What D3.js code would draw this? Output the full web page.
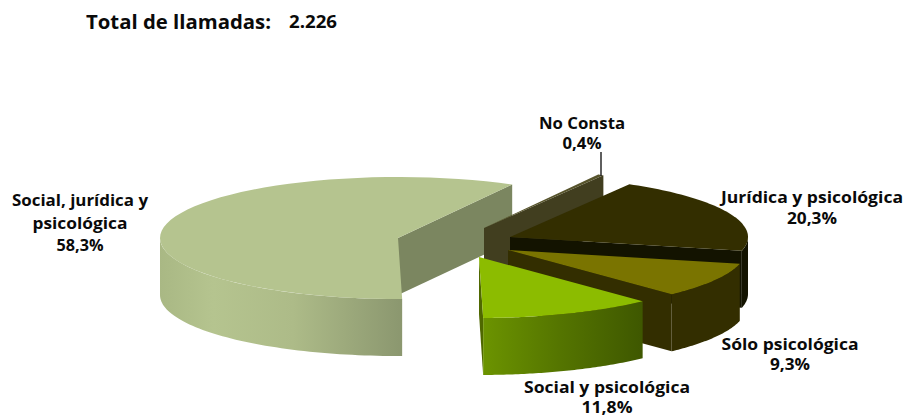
<!DOCTYPE html>
<html><head><meta charset="utf-8">
<script src="https://cdn.jsdelivr.net/npm/d3@7"></script>
<style>html,body{margin:0;padding:0;background:#fff}svg{display:block}
text{font-family:"Open Sans","Noto Sans",sans-serif;font-weight:700;fill:#0a0a0a}</style>
</head><body><svg id="c" width="908" height="417"></svg>
<script>
const categories=["Social, jurídica y psicológica","No Consta","Jurídica y psicológica","Sólo psicológica","Social y psicológica"];
const shares=[58.3,0.4,20.3,9.3,11.8];
const shareLabels=["58,3%","0,4%","20,3%","9,3%","11,8%"];
const totalLabel="Total de llamadas:";
const totalValue="2.226";

// layout
const rx=238, ry=61, depth=57, startDeg=179;
const apex=[[398,238],[484,228],[510,237],[508,250],[479,257]];
const topColor=["#b5c48f","#57542c","#332e00","#7a7400","#8cbc00"];
const faceColor=["#7b8660","#413e1f","#131300","#332e00","#4f6800"];
const wallColor=["url(#gBig)","#413e1f","#131300","#332e00","url(#gSoc)"];
const labelLines=[["Social, jurídica y","psicológica"],["No Consta"],["Jurídica y psicológica"],["Sólo psicológica"],["Social y psicológica"]];
const labelX=[80,582,812,790,607];
const labelY=[[206,229,251],[129,149],[203,224],[350,370],[393,413]];
const labelW=[[136,95,47],[86,39],[182,50],[137,40],[166,51]];

const svg=d3.select("#c");
const defs=svg.append("defs");
function grad(id,x1,x2,stops){
  const g=defs.append("linearGradient").attr("id",id).attr("gradientUnits","userSpaceOnUse")
    .attr("x1",x1).attr("x2",x2).attr("y1",0).attr("y2",0);
  stops.forEach(s=>g.append("stop").attr("offset",s[0]).attr("stop-color",s[1]));
}
grad("gBig",160,402,[[0,"#a9b884"],[0.22,"#b5c48f"],[0.55,"#adbb88"],[1,"#8b976f"]]);
grad("gSoc",482,641,[[0,"#6c9400"],[0.5,"#547400"],[1,"#3f5800"]]);

const arcs=d3.pie().sort(null).value(d=>d)
  .startAngle(startDeg*Math.PI/180).endAngle(startDeg*Math.PI/180+2*Math.PI)(shares);
const line=d3.line();
const on=(c,t,dy=0)=>[c[0]+rx*Math.sin(t),c[1]-ry*Math.cos(t)+dy];
const steps=(a,b)=>d3.range(0,61).map(i=>a+(b-a)*i/60);

arcs.forEach((a,i)=>{
  const c=apex[i], g=svg.append("g");
  const t0=a.startAngle,t1=a.endAngle;
  const e=on(c,t1);
  g.append("path").attr("fill",faceColor[i])
    .attr("d",line([c,e,[e[0],e[1]+depth],[c[0],c[1]+depth]])+"Z");
  const P=Math.PI;
  [[t0,t1],[t0-2*P,t1-2*P]].forEach(([u,v])=>{
    const w0=Math.max(u,P/2),w1=Math.min(v,3*P/2);
    if(w1>w0){
      const s=steps(w0,w1);
      g.append("path").attr("fill",wallColor[i])
        .attr("d",line(s.map(t=>on(c,t)).concat(s.slice().reverse().map(t=>on(c,t,depth))))+"Z");
    }
  });
  g.append("path").attr("fill",topColor[i])
    .attr("d",line([c].concat(steps(t0,t1).map(t=>on(c,t))))+"Z");
});

svg.append("line").attr("x1",601).attr("x2",601).attr("y1",152).attr("y2",176)
  .attr("stroke","#2a2a2a").attr("stroke-width",1.5);

categories.forEach((n,i)=>{
  labelLines[i].concat([shareLabels[i]]).forEach((t,j)=>{
    svg.append("text").attr("x",labelX[i]).attr("y",labelY[i][j])
      .attr("text-anchor","middle").attr("font-size",16)
      .attr("textLength",labelW[i][j]).attr("lengthAdjust","spacingAndGlyphs").text(t);
  });
});
svg.append("text").attr("x",86).attr("y",29).attr("font-size",20)
  .attr("textLength",185).attr("lengthAdjust","spacingAndGlyphs").text(totalLabel);
svg.append("text").attr("x",289).attr("y",28).attr("font-size",17.5)
  .attr("textLength",48).attr("lengthAdjust","spacingAndGlyphs").text(totalValue);
</script></body></html>
